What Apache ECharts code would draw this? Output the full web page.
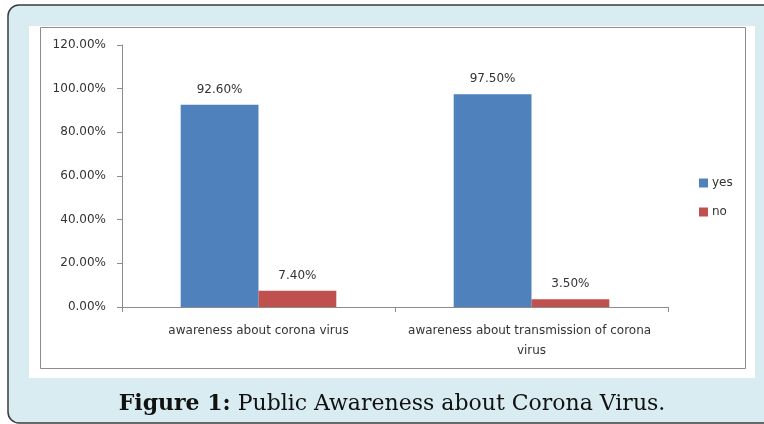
<!DOCTYPE html>
<html>
<head>
<meta charset="utf-8">
<script src="https://cdn.jsdelivr.net/npm/echarts@6/dist/echarts.min.js"></script>
<style>html,body{margin:0;padding:0;background:#fff}#c{width:764px;height:424px}</style>
</head>
<body>
<div id="c"></div>
<script>
const categories = ['awareness about corona virus', 'awareness about transmission of corona virus'];
const seriesNames = ['yes', 'no'];
const yesValues = [0.926, 0.975];
const noValues = [0.074, 0.035];
const yTicks = { min: 0, max: 1.2, interval: 0.2 };
const captionBold = 'Figure 1:';
const captionText = ' Public Awareness about Corona Virus.';

const chart = echarts.init(document.getElementById('c'), null, { renderer: 'canvas' });
const font = 'DejaVu Sans';
const pct = v => (v * 100).toFixed(2) + '%';
chart.setOption({
  animation: false,
  backgroundColor: '#fff',
  graphic: [
    { type: 'rect', z: -10, shape: { x: 8, y: 5, width: 800, height: 418, r: 11 }, style: { fill: '#d8ecf1', stroke: '#3a3a3a', lineWidth: 1.5 } },
    { type: 'rect', z: -9, shape: { x: 29, y: 26, width: 726, height: 352 }, style: { fill: '#ffffff' } },
    { type: 'rect', z: -8, shape: { x: 40.5, y: 27.5, width: 705, height: 341 }, style: { fill: 'none', stroke: '#8c8c8c', lineWidth: 1 } },
    { type: 'text', z: 10, x: 392, y: 404, style: {
        text: '{b|' + captionBold + '}{n|' + captionText + '}',
        align: 'center', verticalAlign: 'middle',
        rich: {
          b: { fontFamily: 'DejaVu Serif', fontWeight: 'bold', fontSize: 22, fill: '#111' },
          n: { fontFamily: 'DejaVu Serif', fontSize: 22, fill: '#111' }
        }
    } }
  ],
  grid: { left: 122, right: 96, top: 45, bottom: 117 },
  legend: {
    data: seriesNames, orient: 'vertical', left: 694, top: 172,
    itemWidth: 9, itemHeight: 9, itemGap: 17,
    icon: 'rect',
    textStyle: { fontFamily: font, fontSize: 12, color: '#333', padding: [0, 0, 0, -1] }
  },
  xAxis: {
    type: 'category', data: categories,
    axisLine: { lineStyle: { color: '#8c8c8c' } },
    axisTick: { show: true, length: 5, lineStyle: { color: '#8c8c8c' } },
    axisLabel: { interval: 0, margin: 14, fontFamily: font, fontSize: 12, color: '#333', width: 262, overflow: 'break', lineHeight: 20 }
  },
  yAxis: {
    type: 'value', min: yTicks.min, max: yTicks.max, interval: yTicks.interval,
    splitLine: { show: false },
    axisLine: { show: true, lineStyle: { color: '#8c8c8c' } },
    axisTick: { show: true, length: 5, lineStyle: { color: '#8c8c8c' } },
    axisLabel: { formatter: pct, margin: 16, fontFamily: font, fontSize: 12, color: '#333' }
  },
  series: [
    { name: seriesNames[0], type: 'bar', data: yesValues, barGap: '0%', barCategoryGap: '43%',
      itemStyle: { color: '#4f81bd' },
      label: { show: true, position: 'top', distance: 9, formatter: p => pct(p.value), fontFamily: font, fontSize: 12, color: '#333' } },
    { name: seriesNames[1], type: 'bar', data: noValues,
      itemStyle: { color: '#c0504d' },
      label: { show: true, position: 'top', distance: 9, formatter: p => pct(p.value), fontFamily: font, fontSize: 12, color: '#333' } }
  ]
});
</script>
</body>
</html>
